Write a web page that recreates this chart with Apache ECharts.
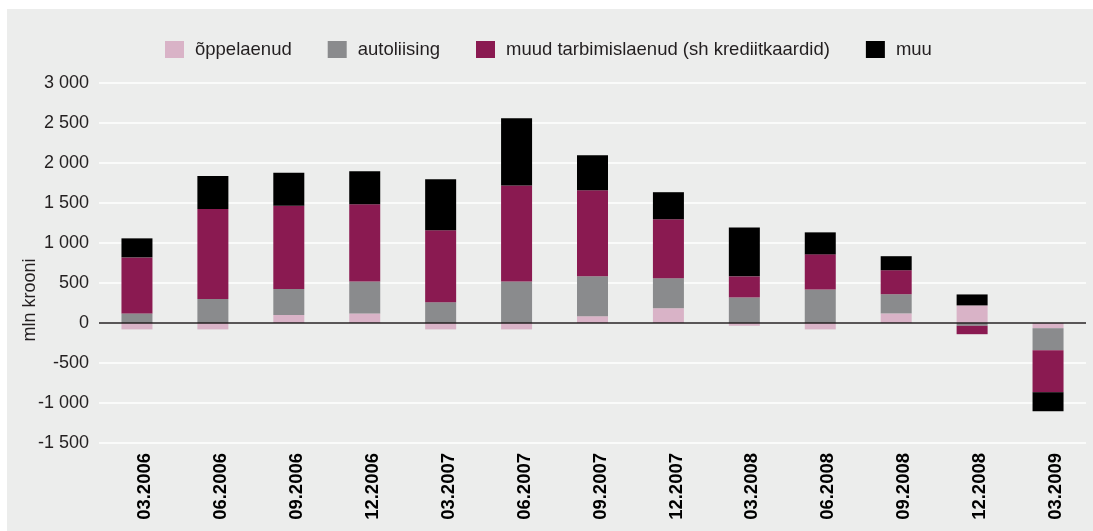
<!DOCTYPE html>
<html>
<head>
<meta charset="utf-8">
<script src="https://cdn.jsdelivr.net/npm/echarts@6/dist/echarts.min.js"></script>
<style>
  html, body { margin: 0; padding: 0; background: #ffffff; }
  #wrap { position: absolute; left: 0; top: 0; width: 1093px; height: 531px; background: #ffffff; }
  #chart { position: absolute; left: 7px; top: 9px; width: 1086px; height: 522px; background: #ECEDEC; }
</style>
</head>
<body>
<div id="wrap"><div id="chart"></div></div>
<script>
const categories = ['03.2006','06.2006','09.2006','12.2006','03.2007','06.2007','09.2007','12.2007','03.2008','06.2008','09.2008','12.2008','03.2009'];
const seriesNames = ['õppelaenud', 'autoliising', 'muud tarbimislaenud (sh krediitkaardid)', 'muu'];
const oppelaenud = [-80, -80, 100, 120, -80, -80, 85, 185, -35, -80, 120, 220, -65];
const autoliising = [120, 300, 325, 400, 260, 520, 500, 375, 320, 420, 240, -35, -275];
const muudTarbimislaenud = [700, 1125, 1040, 965, 900, 1200, 1075, 737, 263, 438, 300, -105, -525];
const muu = [238, 413, 412, 412, 637, 838, 437, 338, 612, 275, 175, 137, -238];
const yAxisTitle = 'mln krooni';

const colors = ['#D9B3C7', '#8A8B8D', '#8A1A51', '#000000'];
const fontFamily = 'Liberation Sans, Arial, Helvetica, sans-serif';
const textColor = '#231F20';

function fmt(v) {
  const s = String(Math.abs(v));
  const withSpace = s.replace(/\B(?=(\d{3})+(?!\d))/g, ' ');
  return (v < 0 ? '-' : '') + withSpace;
}

const dataSets = [oppelaenud, autoliising, muudTarbimislaenud, muu];
const series = dataSets.map((d, i) => ({
  name: seriesNames[i],
  type: 'bar',
  stack: 'total',
  barWidth: 31,
  data: d,
  itemStyle: { color: colors[i] },
  emphasis: { disabled: true }
}));
series[3].markLine = {
  silent: true,
  symbol: 'none',
  label: { show: false },
  lineStyle: { color: textColor, width: 1.5, type: 'solid' },
  data: [{ yAxis: 0 }],
  animation: false
};

const chart = echarts.init(document.getElementById('chart'));
chart.setOption({
  animation: false,
  backgroundColor: '#ECEDEC',
  textStyle: { fontFamily: fontFamily },
  legend: {
    left: 158,
    top: 31,
    padding: 0,
    itemWidth: 19,
    itemHeight: 17,
    itemGap: 36,
    icon: 'rect',
    data: seriesNames,
    textStyle: { fontSize: 18.5, color: textColor, fontFamily: fontFamily, padding: [0, 0, 0, 6] }
  },
  grid: { left: 92, right: 7, top: 74, bottom: 88, containLabel: false, outerBoundsMode: 'none' },
  xAxis: {
    type: 'category',
    data: categories,
    position: 'bottom',
    axisLine: { show: false, onZero: false },
    axisTick: { show: false },
    splitLine: { show: false },
    axisLabel: {
      rotate: 90,
      margin: 10,
      interval: 0,
      fontSize: 18.5,
      fontWeight: 'bold',
      color: '#000000',
      fontFamily: fontFamily,
      verticalAlign: 'top',
      lineHeight: 16
    }
  },
  yAxis: {
    type: 'value',
    min: -1500,
    max: 3000,
    interval: 500,
    name: yAxisTitle,
    nameLocation: 'middle',
    nameRotate: 90,
    nameGap: 60,
    nameMoveOverlap: false,
    nameTextStyle: { fontSize: 18, color: textColor, fontFamily: fontFamily, padding: [0, 74, 0, 0] },
    axisLine: { show: false },
    axisTick: { show: false },
    axisLabel: { margin: 10, fontSize: 18, color: textColor, fontFamily: fontFamily, formatter: fmt },
    splitLine: { show: true, lineStyle: { color: '#ffffff', width: 1.5 } }
  },
  series: series
});
</script>
</body>
</html>
